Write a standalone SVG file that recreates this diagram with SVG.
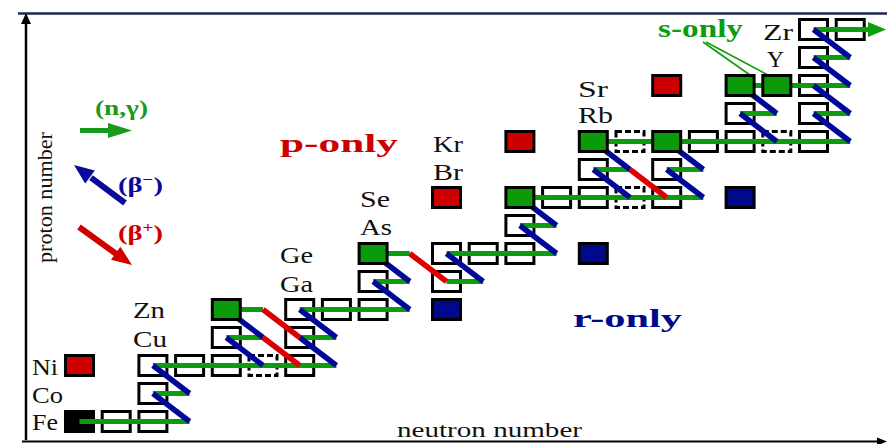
<svg xmlns="http://www.w3.org/2000/svg" width="887" height="444" viewBox="0 0 887 444">
<style>
.bx{fill:#fff;stroke:#000;stroke-width:3}
.d{stroke-dasharray:6 3}
.k{fill:#000;stroke:#000;stroke-width:3}
.g{fill:#0a9a0a;stroke:#000;stroke-width:3}
.r{fill:#cc0000;stroke:#000;stroke-width:3}
.b{fill:#00088c;stroke:#000;stroke-width:3}
.gl{stroke:#0c9c0c;stroke-width:5;fill:none}
.bl{stroke:#00089a;stroke-width:5.5;fill:none}
.rl{stroke:#dd0000;stroke-width:5.5;fill:none}
.el{font-family:"Liberation Serif",serif;font-size:23px;fill:#111}
.big{font-family:"Liberation Serif",serif;font-weight:bold}
</style>
<defs><rect id="c" width="28" height="20"/></defs>
<!-- frame -->
<g id="frame">
<line x1="18" y1="13.5" x2="887" y2="13.5" stroke="#1c2a4e" stroke-width="2.5"/>
<line x1="26" y1="440" x2="26" y2="22" stroke="#000" stroke-width="2.5"/>
<polygon points="26,13 21,24 31,24" fill="#000"/>
<line x1="22" y1="441.5" x2="878" y2="441.5" stroke="#000" stroke-width="2"/>
<polygon points="887,441.5 877,437.5 877,445.5" fill="#000"/>
</g>
<!-- plain nodes -->
<g id="n0-0"><use href="#c" class="k" x="65.5" y="411.5"/></g>
<g id="n1-0"><use href="#c" class="bx" x="102.2" y="411.5"/></g>
<g id="n2-0"><use href="#c" class="bx" x="138.9" y="411.5"/></g>
<g id="n2-1"><use href="#c" class="bx" x="138.9" y="383.5"/></g>
<g id="n2-2"><use href="#c" class="bx" x="138.9" y="355.5"/></g>
<g id="n3-2"><use href="#c" class="bx" x="175.6" y="355.5"/></g>
<g id="n4-2"><use href="#c" class="bx" x="212.3" y="355.5"/></g>
<g id="n5-2"><use href="#c" class="bx d" x="249" y="355.5"/></g>
<g id="n6-2"><use href="#c" class="bx" x="285.7" y="355.5"/></g>
<g id="n4-3"><use href="#c" class="bx" x="212.3" y="327.5"/></g>
<g id="n6-3"><use href="#c" class="bx" x="285.7" y="327.5"/></g>
<g id="n6-4"><use href="#c" class="bx" x="285.7" y="299.5"/></g>
<g id="n7-4"><use href="#c" class="bx" x="322.4" y="299.5"/></g>
<g id="n8-4"><use href="#c" class="bx" x="359.1" y="299.5"/></g>
<g id="n8-5"><use href="#c" class="bx" x="359.1" y="271.5"/></g>
<g id="n10-5"><use href="#c" class="bx" x="432.5" y="271.5"/></g>
<g id="n10-6"><use href="#c" class="bx" x="432.5" y="243.5"/></g>
<g id="n11-6"><use href="#c" class="bx" x="469.2" y="243.5"/></g>
<g id="n12-6"><use href="#c" class="bx" x="505.9" y="243.5"/></g>
<g id="n12-7"><use href="#c" class="bx" x="505.9" y="215.5"/></g>
<g id="n13-8"><use href="#c" class="bx" x="542.6" y="187.5"/></g>
<g id="n14-8"><use href="#c" class="bx" x="579.3" y="187.5"/></g>
<g id="n15-8"><use href="#c" class="bx d" x="616" y="187.5"/></g>
<g id="n16-8"><use href="#c" class="bx" x="652.7" y="187.5"/></g>
<g id="n14-9"><use href="#c" class="bx" x="579.3" y="159.5"/></g>
<g id="n16-9"><use href="#c" class="bx" x="652.7" y="159.5"/></g>
<g id="n15-10"><use href="#c" class="bx d" x="616" y="131.5"/></g>
<g id="n17-10"><use href="#c" class="bx" x="689.4" y="131.5"/></g>
<g id="n18-10"><use href="#c" class="bx" x="726.1" y="131.5"/></g>
<g id="n19-10"><use href="#c" class="bx d" x="762.8" y="131.5"/></g>
<g id="n20-10"><use href="#c" class="bx" x="799.5" y="131.5"/></g>
<g id="n18-11"><use href="#c" class="bx" x="726.1" y="103.5"/></g>
<g id="n20-11"><use href="#c" class="bx" x="799.5" y="103.5"/></g>
<g id="n20-12"><use href="#c" class="bx" x="799.5" y="75.5"/></g>
<g id="n20-13"><use href="#c" class="bx" x="799.5" y="47.5"/></g>
<g id="n20-14"><use href="#c" class="bx" x="799.5" y="19.5"/></g>
<g id="n21-14"><use href="#c" class="bx" x="836.2" y="19.5"/></g>
<!-- connectors -->
<g id="connectors">
<g class="gl">
<line x1="79.5" y1="421.5" x2="189.6" y2="421.5"/>
<line x1="152.9" y1="393.5" x2="189.6" y2="393.5"/>
<line x1="152.9" y1="365.5" x2="336.4" y2="365.5"/>
<line x1="226.3" y1="337.5" x2="263" y2="337.5"/>
<line x1="299.7" y1="337.5" x2="336.4" y2="337.5"/>
<line x1="226.3" y1="309.5" x2="263" y2="309.5"/>
<line x1="299.7" y1="309.5" x2="409.8" y2="309.5"/>
<line x1="373.1" y1="281.5" x2="409.8" y2="281.5"/>
<line x1="373.1" y1="253.5" x2="409.8" y2="253.5"/>
<line x1="446.5" y1="281.5" x2="483.2" y2="281.5"/>
<line x1="446.5" y1="253.5" x2="556.6" y2="253.5"/>
<line x1="519.9" y1="225.5" x2="556.6" y2="225.5"/>
<line x1="519.9" y1="197.5" x2="703.4" y2="197.5"/>
<line x1="593.3" y1="169.5" x2="630" y2="169.5"/>
<line x1="666.7" y1="169.5" x2="703.4" y2="169.5"/>
<line x1="593.3" y1="141.5" x2="850.2" y2="141.5"/>
<line x1="740.1" y1="113.5" x2="776.8" y2="113.5"/>
<line x1="813.5" y1="113.5" x2="850.2" y2="113.5"/>
<line x1="740.1" y1="85.5" x2="850.2" y2="85.5"/>
<line x1="813.5" y1="57.5" x2="850.2" y2="57.5"/>
<line x1="813.5" y1="29.5" x2="870" y2="29.5"/>
</g>
<polygon points="868,22 886,29.5 868,37" fill="#0c9c0c"/>
<g class="bl">
<line x1="189.6" y1="421.5" x2="152.9" y2="393.5"/>
<line x1="189.6" y1="393.5" x2="152.9" y2="365.5"/>
<line x1="263" y1="365.5" x2="226.3" y2="337.5"/>
<line x1="263" y1="337.5" x2="226.3" y2="309.5"/>
<line x1="336.4" y1="365.5" x2="299.7" y2="337.5"/>
<line x1="336.4" y1="337.5" x2="299.7" y2="309.5"/>
<line x1="409.8" y1="309.5" x2="373.1" y2="281.5"/>
<line x1="409.8" y1="281.5" x2="373.1" y2="253.5"/>
<line x1="483.2" y1="281.5" x2="446.5" y2="253.5"/>
<line x1="556.6" y1="253.5" x2="519.9" y2="225.5"/>
<line x1="556.6" y1="225.5" x2="519.9" y2="197.5"/>
<line x1="630" y1="197.5" x2="593.3" y2="169.5"/>
<line x1="630" y1="169.5" x2="593.3" y2="141.5"/>
<line x1="703.4" y1="197.5" x2="666.7" y2="169.5"/>
<line x1="703.4" y1="169.5" x2="666.7" y2="141.5"/>
<line x1="776.8" y1="141.5" x2="740.1" y2="113.5"/>
<line x1="776.8" y1="113.5" x2="740.1" y2="85.5"/>
<line x1="850.2" y1="141.5" x2="813.5" y2="113.5"/>
<line x1="850.2" y1="113.5" x2="813.5" y2="85.5"/>
<line x1="850.2" y1="85.5" x2="813.5" y2="57.5"/>
<line x1="850.2" y1="57.5" x2="813.5" y2="29.5"/>
</g>
<g class="rl">
<line x1="263" y1="337.5" x2="299.7" y2="365.5"/>
<line x1="263" y1="309.5" x2="299.7" y2="337.5"/>
<line x1="409.8" y1="253.5" x2="446.5" y2="281.5"/>
<line x1="630" y1="169.5" x2="666.7" y2="197.5"/>
</g>
<g stroke="#0c9c0c" stroke-width="1.6">
<line x1="703" y1="42" x2="750" y2="75"/>
<line x1="706" y1="42" x2="768" y2="75"/>
</g>
</g>
<!-- coloured nodes -->
<g id="n0-2"><use href="#c" class="r" x="65.5" y="355.5"/></g>
<g id="n4-4"><use href="#c" class="g" x="212.3" y="299.5"/></g>
<g id="n10-4"><use href="#c" class="b" x="432.5" y="299.5"/></g>
<g id="n8-6"><use href="#c" class="g" x="359.1" y="243.5"/></g>
<g id="n14-6"><use href="#c" class="b" x="579.3" y="243.5"/></g>
<g id="n10-8"><use href="#c" class="r" x="432.5" y="187.5"/></g>
<g id="n12-8"><use href="#c" class="g" x="505.9" y="187.5"/></g>
<g id="n18-8"><use href="#c" class="b" x="726.1" y="187.5"/></g>
<g id="n12-10"><use href="#c" class="r" x="505.9" y="131.5"/></g>
<g id="n14-10"><use href="#c" class="g" x="579.3" y="131.5"/></g>
<g id="n16-10"><use href="#c" class="g" x="652.7" y="131.5"/></g>
<g id="n16-12"><use href="#c" class="r" x="652.7" y="75.5"/></g>
<g id="n18-12"><use href="#c" class="g" x="726.1" y="75.5"/></g>
<g id="n19-12"><use href="#c" class="g" x="762.8" y="75.5"/></g>
<!-- element labels -->
<g id="labels" class="el">
<text x="32" y="375" textLength="26" lengthAdjust="spacingAndGlyphs">Ni</text>
<text x="32" y="403" textLength="31" lengthAdjust="spacingAndGlyphs">Co</text>
<text x="32" y="430" textLength="26" lengthAdjust="spacingAndGlyphs">Fe</text>
<text x="133" y="318" textLength="32" lengthAdjust="spacingAndGlyphs">Zn</text>
<text x="133" y="347" textLength="34" lengthAdjust="spacingAndGlyphs">Cu</text>
<text x="280" y="263" textLength="33" lengthAdjust="spacingAndGlyphs">Ge</text>
<text x="280" y="292" textLength="33" lengthAdjust="spacingAndGlyphs">Ga</text>
<text x="360" y="207" textLength="30" lengthAdjust="spacingAndGlyphs">Se</text>
<text x="360" y="235" textLength="32" lengthAdjust="spacingAndGlyphs">As</text>
<text x="433" y="152" textLength="30" lengthAdjust="spacingAndGlyphs">Kr</text>
<text x="433" y="180" textLength="30" lengthAdjust="spacingAndGlyphs">Br</text>
<text x="578" y="97" textLength="30" lengthAdjust="spacingAndGlyphs">Sr</text>
<text x="578" y="123" textLength="35" lengthAdjust="spacingAndGlyphs">Rb</text>
<text x="763" y="40" textLength="30" lengthAdjust="spacingAndGlyphs">Zr</text>
<text x="767" y="67" textLength="17" lengthAdjust="spacingAndGlyphs">Y</text>
</g>
<g id="titles">
<text class="big" x="658" y="37" font-size="25" fill="#0c9c0c" textLength="85" lengthAdjust="spacingAndGlyphs">s-only</text>
<text class="big" x="280" y="152" font-size="26" fill="#cc0000" textLength="118" lengthAdjust="spacingAndGlyphs">p-only</text>
<text class="big" x="573" y="327" font-size="26" fill="#00088c" textLength="109" lengthAdjust="spacingAndGlyphs">r-only</text>
<text x="397" y="437" font-family="Liberation Serif, serif" font-size="22" fill="#111" textLength="185" lengthAdjust="spacingAndGlyphs">neutron number</text>
<text transform="translate(52,263) rotate(-90)" font-family="Liberation Serif, serif" font-size="22" fill="#111" textLength="131" lengthAdjust="spacingAndGlyphs">proton number</text>
</g>
<!-- legend -->
<g id="legend">
<text class="big" x="95" y="115" font-size="21" fill="#1a9a1a" textLength="53" lengthAdjust="spacingAndGlyphs">(n,γ)</text>
<line x1="80" y1="130.5" x2="110" y2="130.5" stroke="#1a9a1a" stroke-width="5"/>
<polygon points="108,123 132,130.5 108,138" fill="#1a9a1a"/>
<line x1="125" y1="203" x2="91" y2="177.7" stroke="#0a0a9a" stroke-width="6"/>
<polygon points="74,165 94.8,170.6 85.2,183.4" fill="#0a0a9a"/>
<text class="big" x="118" y="192" font-size="21" fill="#0a0a9a" textLength="45" lengthAdjust="spacingAndGlyphs">(β<tspan dy="-8" font-size="14">−</tspan><tspan dy="8">)</tspan></text>
<line x1="79" y1="227" x2="117" y2="254.5" stroke="#d00000" stroke-width="6"/>
<polygon points="132,265 111,259.8 120.4,246.8" fill="#d00000"/>
<text class="big" x="118" y="240" font-size="21" fill="#d00000" textLength="45" lengthAdjust="spacingAndGlyphs">(β<tspan dy="-8" font-size="14">+</tspan><tspan dy="8">)</tspan></text>
</g>
</svg>
